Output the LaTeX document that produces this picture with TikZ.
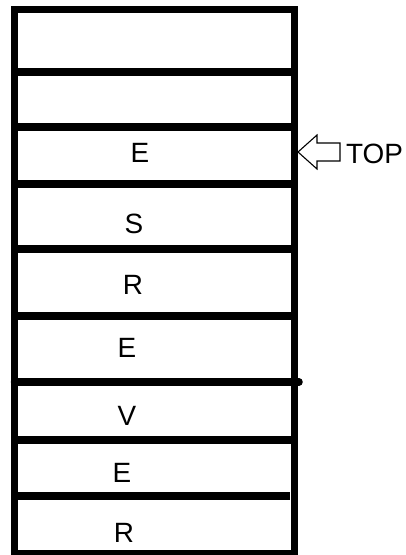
\documentclass[tikz,border=0pt]{standalone}
\usepackage{fontspec}
\setmainfont{Liberation Sans}
\usepackage{tikz}

\begin{document}
\begin{tikzpicture}[x=1bp,y=-1bp]
\useasboundingbox (0,0) rectangle (405,555);

\begin{scope}[line width=7.5bp]
    \draw (14.5,9.5) rectangle (294.5,554);
    \foreach \y in {72,127,184,249,316,440}
        \draw (14.5,\y) -- (294.5,\y);
    \draw[line cap=round] (14.5,382) -- (299,382);
    \draw (14.5,496) -- (290,496);
\end{scope}

\begin{scope}[every node/.style={inner sep=0pt,font=\fontsize{28}{30}\selectfont}]
    \node (e1) at (140,153) {E};
    \node (s)  at (134,224) {S};
    \node (r1) at (133,285) {R};
    \node (e2) at (127,348) {E};
    \node (v)  at (127,416) {V};
    \node (e3) at (122,473) {E};
    \node (r2) at (124,533) {R};
    \node[anchor=west] (top) at (346,154) {TOP};
\end{scope}

\draw[line width=1.1bp,line join=miter]
    (298,152) -- (317,135) -- (317,143) -- (340,143) -- (340,161)
    -- (317,161) -- (317,169) -- cycle;

\end{tikzpicture}
\end{document}
